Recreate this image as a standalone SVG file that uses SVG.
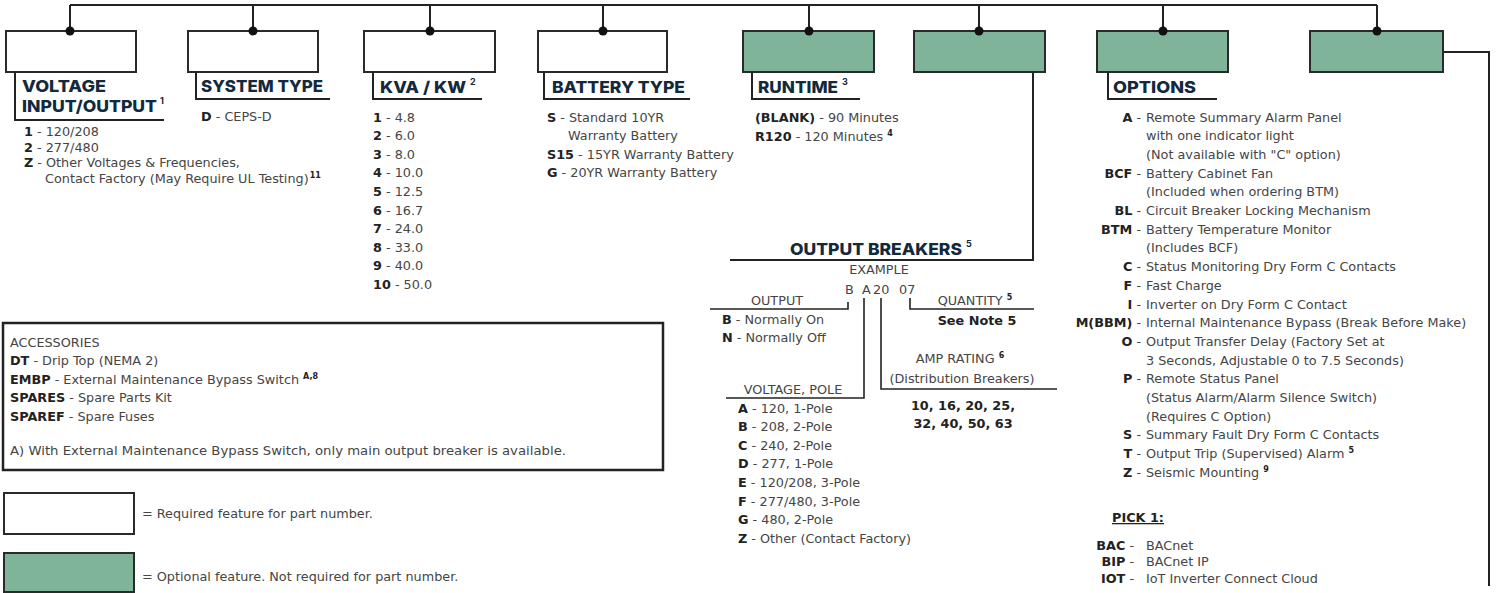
<svg xmlns="http://www.w3.org/2000/svg" width="1497" height="593" viewBox="0 0 1497 593">
<defs>
<style>
.t{font-family:"DejaVu Sans","Open Sans",sans-serif;font-size:12.8px;fill:#454545}
.b{font-weight:700;fill:#222}
.h{font-family:Inter,"Open Sans","DejaVu Sans",sans-serif;font-weight:800;font-size:16.5px;fill:#13293d}
.hs{font-size:9px;font-weight:700}
.s{font-size:8px;font-weight:700;fill:#222}
.box{fill:#fff;stroke:#2a2a2a;stroke-width:2}
.opt{fill:#7fb49b;stroke:#2a2a2a;stroke-width:2}
.ln{fill:none;stroke:#222;stroke-width:2}
.thin{fill:none;stroke:#222;stroke-width:1.6}
.dot{fill:#111}
.c{text-anchor:middle}
.e{text-anchor:end}
</style>
</defs>
<rect width="1497" height="593" fill="#fff"/>

<g id="connectors">
<path class="ln" d="M70,5 H1377 M70,5 V31 M253,5 V31 M430,5 V31 M603,5 V31 M809,5 V31 M979,5 V31 M1163,5 V31 M1377,5 V31"/>
<path class="ln" d="M1033,72 V260 H730"/>
<path class="ln" d="M1443,52 H1489 V586"/>
</g>

<g id="node-voltage">
<rect class="box" x="6" y="31" width="130" height="41"/>
<circle class="dot" cx="70" cy="31" r="4.5"/>
<path class="ln" d="M15,72 V120 H164"/>
<text class="h" x="22" y="92" textLength="84" lengthAdjust="spacingAndGlyphs">VOLTAGE</text>
<text class="h" x="22" y="112" textLength="135" lengthAdjust="spacingAndGlyphs">INPUT/OUTPUT</text>
<text class="h hs" x="160" y="104">1</text>
<text class="t" x="24" y="136"><tspan class="b">1</tspan> - 120/208</text>
<text class="t" x="24" y="151.5"><tspan class="b">2</tspan> - 277/480</text>
<text class="t" x="24" y="167"><tspan class="b">Z</tspan> - Other Voltages &amp; Frequencies,</text>
<text class="t" x="45" y="182.5">Contact Factory (May Require UL Testing)<tspan class="s" dx="1" dy="-5">11</tspan></text>
</g>

<g id="node-system">
<rect class="box" x="188" y="31" width="130" height="41"/>
<circle class="dot" cx="253" cy="31" r="4.5"/>
<path class="ln" d="M196,72 V99 H330"/>
<text class="h" x="201" y="92" textLength="122" lengthAdjust="spacingAndGlyphs">SYSTEM TYPE</text>
<text class="t" x="201" y="121"><tspan class="b">D</tspan> - CEPS-D</text>
</g>

<g id="node-kva">
<rect class="box" x="364" y="31" width="131" height="41"/>
<circle class="dot" cx="430" cy="31" r="4.5"/>
<path class="ln" d="M373,72 V99 H482"/>
<text class="h" x="380" y="93" textLength="86" lengthAdjust="spacingAndGlyphs">KVA / KW</text>
<text class="h hs" x="470" y="85">2</text>
<text class="t" x="373" y="121.5"><tspan class="b">1</tspan> - 4.8</text>
<text class="t" x="373" y="140.1"><tspan class="b">2</tspan> - 6.0</text>
<text class="t" x="373" y="158.7"><tspan class="b">3</tspan> - 8.0</text>
<text class="t" x="373" y="177.3"><tspan class="b">4</tspan> - 10.0</text>
<text class="t" x="373" y="195.9"><tspan class="b">5</tspan> - 12.5</text>
<text class="t" x="373" y="214.5"><tspan class="b">6</tspan> - 16.7</text>
<text class="t" x="373" y="233.1"><tspan class="b">7</tspan> - 24.0</text>
<text class="t" x="373" y="251.7"><tspan class="b">8</tspan> - 33.0</text>
<text class="t" x="373" y="270.3"><tspan class="b">9</tspan> - 40.0</text>
<text class="t" x="373" y="288.9"><tspan class="b">10</tspan> - 50.0</text>
</g>

<g id="node-battery">
<rect class="box" x="538" y="31" width="129" height="41"/>
<circle class="dot" cx="603" cy="31" r="4.5"/>
<path class="ln" d="M544,72 V99 H690"/>
<text class="h" x="552" y="93" textLength="133" lengthAdjust="spacingAndGlyphs">BATTERY TYPE</text>
<text class="t" x="547" y="121.5"><tspan class="b">S</tspan> - Standard 10YR</text>
<text class="t" x="568" y="140.1">Warranty Battery</text>
<text class="t" x="547" y="158.7"><tspan class="b">S15</tspan> - 15YR Warranty Battery</text>
<text class="t" x="547" y="177.3"><tspan class="b">G</tspan> - 20YR Warranty Battery</text>
</g>

<g id="node-runtime">
<rect class="opt" x="743" y="31" width="131" height="41"/>
<circle class="dot" cx="809" cy="31" r="4.5"/>
<path class="ln" d="M752,72 V99 H860"/>
<text class="h" x="758" y="93" textLength="80" lengthAdjust="spacingAndGlyphs">RUNTIME</text>
<text class="h hs" x="842" y="85">3</text>
<text class="t" x="755" y="121.5"><tspan class="b">(BLANK)</tspan> - 90 Minutes</text>
<text class="t" x="755" y="140.5"><tspan class="b">R120</tspan> - 120 Minutes <tspan class="s" dy="-5">4</tspan></text>
</g>

<g id="node-breakers">
<rect class="opt" x="914" y="31" width="131" height="41"/>
<circle class="dot" cx="979" cy="31" r="4.5"/>
<text class="h" x="790" y="255" textLength="172" lengthAdjust="spacingAndGlyphs">OUTPUT BREAKERS</text>
<text class="h hs" x="966" y="247">5</text>
<text class="t c" x="879" y="274">EXAMPLE</text>
<text class="t" y="293.5"><tspan x="845">B</tspan><tspan x="862">A</tspan><tspan x="873">20</tspan><tspan x="899">07</tspan></text>
<path class="thin" d="M710,309 H848 V302 M864,298 V398 H726 M881,298 V389 H1057 M910,298 V309 H1034"/>
<text class="t c" x="777" y="304.5">OUTPUT</text>
<text class="t c" x="975" y="304.5">QUANTITY <tspan class="s" dy="-5">5</tspan></text>
<text class="t b c" x="977" y="325">See Note 5</text>
<text class="t" x="722" y="323.5"><tspan class="b">B</tspan> - Normally On</text>
<text class="t" x="722" y="341.5"><tspan class="b">N</tspan> - Normally Off</text>
<text class="t c" x="960" y="362.5">AMP RATING <tspan class="s" dy="-5">6</tspan></text>
<text class="t c" x="962" y="382.5">(Distribution Breakers)</text>
<text class="t c" x="793" y="393.5">VOLTAGE, POLE</text>
<text class="t b c" x="963" y="409.5">10, 16, 20, 25,</text>
<text class="t b c" x="963" y="427.5">32, 40, 50, 63</text>
<text class="t" x="738" y="412.5"><tspan class="b">A</tspan> - 120, 1-Pole</text>
<text class="t" x="738" y="431.1"><tspan class="b">B</tspan> - 208, 2-Pole</text>
<text class="t" x="738" y="449.7"><tspan class="b">C</tspan> - 240, 2-Pole</text>
<text class="t" x="738" y="468.3"><tspan class="b">D</tspan> - 277, 1-Pole</text>
<text class="t" x="738" y="486.9"><tspan class="b">E</tspan> - 120/208, 3-Pole</text>
<text class="t" x="738" y="505.5"><tspan class="b">F</tspan> - 277/480, 3-Pole</text>
<text class="t" x="738" y="524.1"><tspan class="b">G</tspan> - 480, 2-Pole</text>
<text class="t" x="738" y="542.7"><tspan class="b">Z</tspan> - Other (Contact Factory)</text>
</g>

<g id="node-options">
<rect class="opt" x="1097" y="31" width="131" height="41"/>
<circle class="dot" cx="1163" cy="31" r="4.5"/>
<path class="ln" d="M1108,72 V99 H1217"/>
<text class="h" x="1113" y="93" textLength="83" lengthAdjust="spacingAndGlyphs">OPTIONS</text>
<text class="t e" x="1141" y="121.5"><tspan class="b">A</tspan> -</text>
<text class="t" x="1146" y="121.5">Remote Summary Alarm Panel</text>
<text class="t" x="1146" y="140.2">with one indicator light</text>
<text class="t" x="1146" y="158.9">(Not available with "C" option)</text>
<text class="t e" x="1141" y="177.6"><tspan class="b">BCF</tspan> -</text>
<text class="t" x="1146" y="177.6">Battery Cabinet Fan</text>
<text class="t" x="1146" y="196.3">(Included when ordering BTM)</text>
<text class="t e" x="1141" y="215"><tspan class="b">BL</tspan> -</text>
<text class="t" x="1146" y="215">Circuit Breaker Locking Mechanism</text>
<text class="t e" x="1141" y="233.7"><tspan class="b">BTM</tspan> -</text>
<text class="t" x="1146" y="233.7">Battery Temperature Monitor</text>
<text class="t" x="1146" y="252.4">(Includes BCF)</text>
<text class="t e" x="1141" y="271.1"><tspan class="b">C</tspan> -</text>
<text class="t" x="1146" y="271.1">Status Monitoring Dry Form C Contacts</text>
<text class="t e" x="1141" y="289.8"><tspan class="b">F</tspan> -</text>
<text class="t" x="1146" y="289.8">Fast Charge</text>
<text class="t e" x="1141" y="308.5"><tspan class="b">I</tspan> -</text>
<text class="t" x="1146" y="308.5">Inverter on Dry Form C Contact</text>
<text class="t e" x="1141" y="327.2"><tspan class="b">M(BBM)</tspan> -</text>
<text class="t" x="1146" y="327.2">Internal Maintenance Bypass (Break Before Make)</text>
<text class="t e" x="1141" y="345.9"><tspan class="b">O</tspan> -</text>
<text class="t" x="1146" y="345.9">Output Transfer Delay (Factory Set at</text>
<text class="t" x="1146" y="364.6">3 Seconds, Adjustable 0 to 7.5 Seconds)</text>
<text class="t e" x="1141" y="383.3"><tspan class="b">P</tspan> -</text>
<text class="t" x="1146" y="383.3">Remote Status Panel</text>
<text class="t" x="1146" y="402">(Status Alarm/Alarm Silence Switch)</text>
<text class="t" x="1146" y="420.7">(Requires C Option)</text>
<text class="t e" x="1141" y="439.4"><tspan class="b">S</tspan> -</text>
<text class="t" x="1146" y="439.4">Summary Fault Dry Form C Contacts</text>
<text class="t e" x="1141" y="458.1"><tspan class="b">T</tspan> -</text>
<text class="t" x="1146" y="458.1">Output Trip (Supervised) Alarm <tspan class="s" dy="-5">5</tspan></text>
<text class="t e" x="1141" y="476.8"><tspan class="b">Z</tspan> -</text>
<text class="t" x="1146" y="476.8">Seismic Mounting <tspan class="s" dy="-5">9</tspan></text>
</g>

<g id="node-pick">
<rect class="opt" x="1310" y="31" width="133" height="41"/>
<circle class="dot" cx="1377" cy="31" r="4.5"/>
<text class="t b" x="1112" y="522" text-decoration="underline">PICK 1:</text>
<text class="t e" x="1134" y="549.5"><tspan class="b">BAC</tspan> -</text>
<text class="t" x="1146" y="549.5">BACnet</text>
<text class="t e" x="1134" y="566"><tspan class="b">BIP</tspan> -</text>
<text class="t" x="1146" y="566">BACnet IP</text>
<text class="t e" x="1134" y="582.5"><tspan class="b">IOT</tspan> -</text>
<text class="t" x="1146" y="582.5">IoT Inverter Connect Cloud</text>
</g>

<g id="accessories">
<rect x="3" y="323" width="660" height="147" fill="#fff" stroke="#222" stroke-width="2.5"/>
<text class="t" x="10" y="346.5">ACCESSORIES</text>
<text class="t" x="10" y="365"><tspan class="b">DT</tspan> - Drip Top (NEMA 2)</text>
<text class="t" x="10" y="383.5"><tspan class="b">EMBP</tspan> - External Maintenance Bypass Switch <tspan class="s" dy="-5">A,8</tspan></text>
<text class="t" x="10" y="402"><tspan class="b">SPARES</tspan> - Spare Parts Kit</text>
<text class="t" x="10" y="420.5"><tspan class="b">SPAREF</tspan> - Spare Fuses</text>
<text class="t" x="10" y="455" textLength="556" lengthAdjust="spacingAndGlyphs">A) With External Maintenance Bypass Switch, only main output breaker is available.</text>
</g>

<g id="legend">
<rect class="box" x="4" y="493" width="130" height="41"/>
<text class="t" x="142" y="518">= Required feature for part number.</text>
<rect class="opt" x="4" y="553" width="130" height="39"/>
<text class="t" x="142" y="581">= Optional feature. Not required for part number.</text>
</g>
</svg>
